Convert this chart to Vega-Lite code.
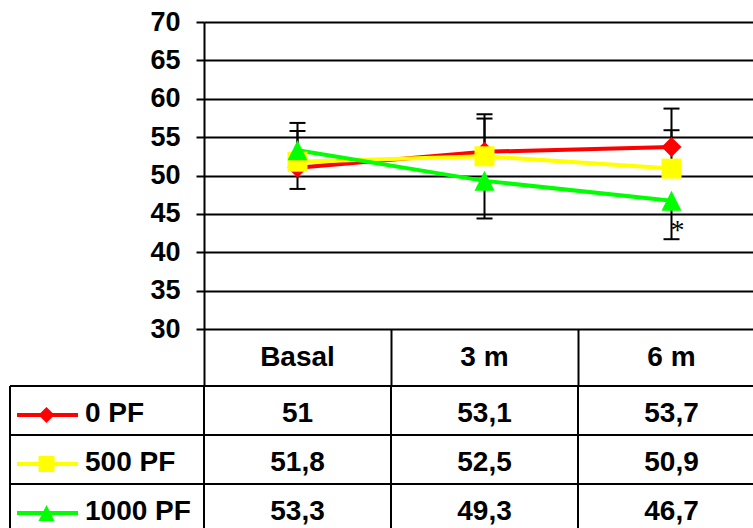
{
  "$schema": "https://vega.github.io/schema/vega-lite/v6.json",
  "padding": {"left": 9, "top": 8, "right": 0, "bottom": 0},
  "bounds": "flush",
  "spacing": 0,
  "config": {
    "view": {"stroke": null},
    "font": "Liberation Sans",
    "locale": {"number": {"decimal": ",", "thousands": ".", "grouping": [3], "currency": ["", " €"]}}
  },
  "resolve": {"scale": {"x": "independent", "y": "independent", "size": "independent", "shape": "independent", "color": "independent"}},
  "datasets": {
    "points": [
      {"series": "0 PF", "time": "Basal", "month": 0, "value": 51, "errEnd": 55.8, "note": ""},
      {"series": "0 PF", "time": "3 m", "month": 3, "value": 53.1, "errEnd": 57.98, "note": ""},
      {"series": "0 PF", "time": "6 m", "month": 6, "value": 53.7, "errEnd": 58.72, "note": ""},
      {"series": "500 PF", "time": "Basal", "month": 0, "value": 51.8, "errEnd": 56.85, "note": ""},
      {"series": "500 PF", "time": "3 m", "month": 3, "value": 52.5, "errEnd": 57.42, "note": ""},
      {"series": "500 PF", "time": "6 m", "month": 6, "value": 50.9, "errEnd": 55.9, "note": ""},
      {"series": "1000 PF", "time": "Basal", "month": 0, "value": 53.3, "errEnd": 48.25, "note": ""},
      {"series": "1000 PF", "time": "3 m", "month": 3, "value": 49.3, "errEnd": 44.4, "note": ""},
      {"series": "1000 PF", "time": "6 m", "month": 6, "value": 46.7, "errEnd": 41.7, "note": "*"}
    ]
  },
  "vconcat": [
    {
      "width": 549,
      "height": 307,
      "data": {"name": "points"},
      "encoding": {
        "x": {"field": "month", "type": "quantitative", "scale": {"domain": [-1.5, 7.3075], "nice": false, "zero": false}, "axis": null}
      },
      "layer": [
        {
          "mark": {"type": "rule", "color": "black", "strokeWidth": 2},
          "encoding": {
            "y": {"field": "value", "type": "quantitative",
              "scale": {"domain": [30, 70], "nice": false, "zero": false},
              "axis": {"values": [30, 35, 40, 45, 50, 55, 60, 65, 70], "tickCount": 9, "title": null,
                "grid": true, "gridColor": "black", "gridWidth": 2, "gridOpacity": 1,
                "domainColor": "black", "domainWidth": 2,
                "tickColor": "black", "tickWidth": 2, "tickSize": 8,
                "labelFont": "Liberation Sans", "labelFontWeight": "bold", "labelFontSize": 27,
                "labelColor": "black", "labelPadding": 16, "labelFlush": false, "labelOverlap": false}},
            "y2": {"field": "errEnd"}
          }
        },
        {
          "mark": {"type": "tick", "orient": "horizontal", "color": "black", "thickness": 2, "size": 16, "opacity": 1},
          "encoding": {"y": {"field": "errEnd", "type": "quantitative",
              "axis": {"values": [30, 35, 40, 45, 50, 55, 60, 65, 70], "tickCount": 9, "title": null,
                "grid": true, "gridColor": "black", "gridWidth": 2, "gridOpacity": 1,
                "domainColor": "black", "domainWidth": 2,
                "tickColor": "black", "tickWidth": 2, "tickSize": 8,
                "labelFont": "Liberation Sans", "labelFontWeight": "bold", "labelFontSize": 27,
                "labelColor": "black", "labelPadding": 16, "labelFlush": false, "labelOverlap": false}}}
        },
        {
          "mark": {"type": "line", "strokeWidth": 4},
          "encoding": {
            "y": {"field": "value", "type": "quantitative",
              "axis": {"values": [30, 35, 40, 45, 50, 55, 60, 65, 70], "tickCount": 9, "title": null,
                "grid": true, "gridColor": "black", "gridWidth": 2, "gridOpacity": 1,
                "domainColor": "black", "domainWidth": 2,
                "tickColor": "black", "tickWidth": 2, "tickSize": 8,
                "labelFont": "Liberation Sans", "labelFontWeight": "bold", "labelFontSize": 27,
                "labelColor": "black", "labelPadding": 16, "labelFlush": false, "labelOverlap": false}},
            "color": {"field": "series", "type": "nominal", "scale": {"domain": ["0 PF", "500 PF", "1000 PF"], "range": ["#FF0000", "#FFFF00", "#00FF00"]}, "legend": null}
          }
        },
        {
          "mark": {"type": "point", "filled": true, "opacity": 1, "strokeWidth": 0},
          "encoding": {
            "y": {"field": "value", "type": "quantitative",
              "axis": {"values": [30, 35, 40, 45, 50, 55, 60, 65, 70], "tickCount": 9, "title": null,
                "grid": true, "gridColor": "black", "gridWidth": 2, "gridOpacity": 1,
                "domainColor": "black", "domainWidth": 2,
                "tickColor": "black", "tickWidth": 2, "tickSize": 8,
                "labelFont": "Liberation Sans", "labelFontWeight": "bold", "labelFontSize": 27,
                "labelColor": "black", "labelPadding": 16, "labelFlush": false, "labelOverlap": false}},
            "color": {"field": "series", "type": "nominal", "scale": {"domain": ["0 PF", "500 PF", "1000 PF"], "range": ["#FF0000", "#FFFF00", "#00FF00"]}, "legend": null},
            "shape": {"field": "series", "type": "nominal", "scale": {"domain": ["0 PF", "500 PF", "1000 PF"], "range": ["diamond", "square", "M0,-1L-1,1L1,1Z"]}, "legend": null},
            "size": {"field": "series", "type": "nominal", "scale": {"domain": ["0 PF", "500 PF", "1000 PF"], "range": [400, 400, 676]}, "legend": null}
          }
        },
        {
          "transform": [{"filter": "datum.note != ''"}],
          "mark": {"type": "text", "font": "Liberation Serif", "fontSize": 28, "align": "left", "baseline": "alphabetic", "color": "black", "dx": -1},
          "encoding": {
            "y": {"field": "errEnd", "type": "quantitative",
              "axis": {"values": [30, 35, 40, 45, 50, 55, 60, 65, 70], "tickCount": 9, "title": null,
                "grid": true, "gridColor": "black", "gridWidth": 2, "gridOpacity": 1,
                "domainColor": "black", "domainWidth": 2,
                "tickColor": "black", "tickWidth": 2, "tickSize": 8,
                "labelFont": "Liberation Sans", "labelFontWeight": "bold", "labelFontSize": 27,
                "labelColor": "black", "labelPadding": 16, "labelFlush": false, "labelOverlap": false}},
            "text": {"field": "note"}
          }
        }
      ]
    },
    {
      "width": 549,
      "height": 57,
      "data": {"name": "points"},
      "transform": [{"filter": "datum.series == '0 PF'"}],
      "mark": {"type": "text", "font": "Liberation Sans", "fontWeight": "bold", "fontSize": 28, "baseline": "middle", "color": "black"},
      "encoding": {
        "x": {"field": "month", "type": "quantitative", "scale": {"domain": [-1.5, 7.3075], "nice": false, "zero": false},
          "axis": {"values": [-1.5, 1.5, 4.5], "grid": true, "gridColor": "black", "gridWidth": 2, "gridOpacity": 1, "labels": false, "ticks": false, "domain": false, "title": null}},
        "text": {"field": "time"}
      }
    },
    {
      "width": 549,
      "height": 142,
      "data": {"name": "points"},
      "layer": [
        {
          "mark": {"type": "text", "font": "Liberation Sans", "fontWeight": "bold", "fontSize": 28, "baseline": "middle", "color": "black", "dy": 3},
          "encoding": {
            "x": {"field": "month", "type": "quantitative", "scale": {"domain": [-1.5, 7.3075], "nice": false, "zero": false}, "axis": null},
            "y": {"field": "series", "type": "nominal", "scale": {"type": "point", "domain": ["0 PF", "500 PF", "1000 PF"], "range": [24.5, 122.5], "padding": 0}, "axis": null},
            "text": {"field": "value", "type": "quantitative", "format": "~g"}
          }
        },
        {
          "transform": [{"filter": "datum.month == 0"}],
          "mark": {"type": "rule", "color": "black", "strokeWidth": 2, "yOffset": -24.5},
          "encoding": {
            "x": {"datum": -4.6123, "type": "quantitative"},
            "x2": {"datum": 7.3075},
            "y": {"field": "series", "type": "nominal"}
          }
        },
        {
          "transform": [{"filter": "datum.month == 0 && datum.series == '0 PF'"}],
          "mark": {"type": "rule", "color": "black", "strokeWidth": 2, "yOffset": -24.5, "y2Offset": 19.5},
          "encoding": {
            "x": {"datum": -4.6123, "type": "quantitative"},
            "y": {"datum": "0 PF", "type": "nominal"},
            "y2": {"datum": "1000 PF"}
          }
        },
        {
          "transform": [{"filter": "datum.series == '0 PF'"}],
          "mark": {"type": "rule", "color": "black", "strokeWidth": 2, "xOffset": -93.5, "yOffset": -24.5, "y2Offset": 19.5},
          "encoding": {
            "x": {"field": "month", "type": "quantitative"},
            "y": {"datum": "0 PF", "type": "nominal"},
            "y2": {"datum": "1000 PF"}
          }
        },
        {
          "transform": [{"filter": "datum.month == 0"}],
          "mark": {"type": "rule", "strokeWidth": 4, "yOffset": 4.5},
          "encoding": {
            "x": {"datum": -4.5, "type": "quantitative"},
            "x2": {"datum": -3.5214},
            "y": {"field": "series", "type": "nominal"},
            "color": {"field": "series", "type": "nominal", "scale": {"domain": ["0 PF", "500 PF", "1000 PF"], "range": ["#FF0000", "#FFFF00", "#00FF00"]}, "legend": null}
          }
        },
        {
          "transform": [{"filter": "datum.month == 0"}],
          "mark": {"type": "point", "filled": true, "opacity": 1, "strokeWidth": 0, "yOffset": 4.5},
          "encoding": {
            "x": {"datum": -4.0267, "type": "quantitative"},
            "y": {"field": "series", "type": "nominal"},
            "color": {"field": "series", "type": "nominal", "scale": {"domain": ["0 PF", "500 PF", "1000 PF"], "range": ["#FF0000", "#FFFF00", "#00FF00"]}, "legend": null},
            "shape": {"field": "series", "type": "nominal", "scale": {"domain": ["0 PF", "500 PF", "1000 PF"], "range": ["diamond", "square", "M0,-1L-1,1L1,1Z"]}, "legend": null},
            "size": {"field": "series", "type": "nominal", "scale": {"domain": ["0 PF", "500 PF", "1000 PF"], "range": [256, 256, 324]}, "legend": null}
          }
        },
        {
          "transform": [{"filter": "datum.month == 0"}],
          "mark": {"type": "text", "font": "Liberation Sans", "fontWeight": "bold", "fontSize": 28, "baseline": "middle", "align": "left", "color": "black", "dy": 3},
          "encoding": {
            "x": {"datum": -3.409, "type": "quantitative"},
            "y": {"field": "series", "type": "nominal"},
            "text": {"field": "series"}
          }
        }
      ]
    }
  ]
}
